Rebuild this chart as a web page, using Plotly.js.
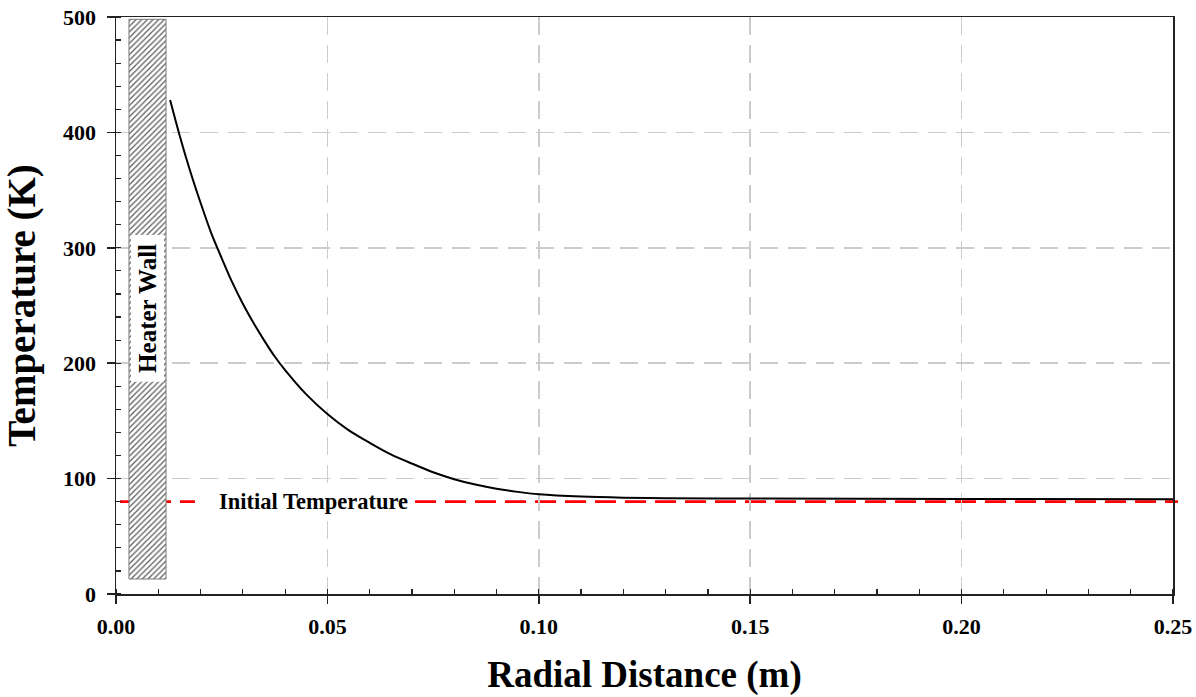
<!DOCTYPE html>
<html>
<head>
<meta charset="utf-8">
<script src="https://cdn.plot.ly/plotly-3.0.1.min.js"></script>
<style>html,body{margin:0;padding:0;background:#fff;}#chart{width:1196px;height:697px;}</style>
</head>
<body>
<div id="chart"></div>
<script>
// Temperature profile
const radialDistance = [0.0128, 0.015, 0.0175, 0.020, 0.0225, 0.025, 0.0275, 0.030, 0.0325, 0.035, 0.0375, 0.040, 0.045, 0.050, 0.055, 0.060, 0.065, 0.070, 0.075, 0.080, 0.085, 0.090, 0.095, 0.100, 0.110, 0.120, 0.130, 0.150, 0.200, 0.250];
const temperature    = [428,    398,   367,    339,   313,    291,   270,    251.5, 235,    220,   206,    194,   173,   156,   142,   131,   121,   113,   105.5, 99.5,  94.8,  91.2,  88.5,  86.5,  84.5,  83.5,  83,    82.7,  82.3,  82];

// Initial temperature reference line
const initialTemperature = 80;

// Heater wall block
const heaterCenter = [0.00745];
const heaterWidth = [0.00876];
const heaterBottom = [13];
const heaterTop = [498];

// Axis ticks
const xTicks = [0, 0.05, 0.10, 0.15, 0.20, 0.25];
const xTickLabels = ['0.00', '0.05', '0.10', '0.15', '0.20', '0.25'];
const yTicks = [0, 100, 200, 300, 400, 500];

const FONT = 'Liberation Serif, Times New Roman, serif';

const traces = [
  {
    type: 'bar',
    x: heaterCenter,
    y: [heaterTop[0] - heaterBottom[0]],
    base: heaterBottom,
    width: heaterWidth,
    marker: {
      color: '#ffffff',
      line: {color: '#7a7a7a', width: 1},
      pattern: {shape: '/', fgcolor: '#5a5a5a', bgcolor: '#ffffff', size: 4, solidity: 0.3}
    },
    hoverinfo: 'skip',
    showlegend: false
  },
  {
    type: 'scatter',
    mode: 'lines',
    x: radialDistance,
    y: temperature,
    line: {color: '#000000', width: 2, shape: 'spline', smoothing: 0.8},
    hoverinfo: 'skip',
    showlegend: false
  }
];

const axisCommon = {
  showline: true,
  linecolor: '#222222',
  linewidth: 1.5,
  mirror: true,
  ticks: 'outside',
  ticklen: 8,
  tickwidth: 1.5,
  tickcolor: '#222222',
  showgrid: true,
  gridcolor: '#cccccc',
  gridwidth: 1.5,
  griddash: '18px,10px',
  zeroline: false,
  tickfont: {family: FONT, size: 22, color: '#000000', weight: 'bold'}
};

const layout = {
  width: 1196,
  height: 697,
  paper_bgcolor: '#ffffff',
  plot_bgcolor: '#ffffff',
  margin: {l: 116, r: 23, t: 17, b: 103},
  showlegend: false,
  bargap: 0,
  xaxis: Object.assign({}, axisCommon, {
    range: [0, 0.25],
    tickmode: 'array',
    tickvals: xTicks,
    ticktext: xTickLabels,
    ticklabelstandoff: 4,
    minor: {dtick: 0.01, tick0: 0, ticks: 'inside', ticklen: 5, tickwidth: 1.2, tickcolor: '#222222', showgrid: false},
    title: {text: 'Radial Distance (m)', font: {family: FONT, size: 37, color: '#000000', weight: 'bold'}, standoff: 23}
  }),
  yaxis: Object.assign({}, axisCommon, {
    range: [0, 500],
    tickmode: 'array',
    tickvals: yTicks,
    ticklabelstandoff: 6,
    minor: {dtick: 20, tick0: 0, ticks: 'inside', ticklen: 5, tickwidth: 1.2, tickcolor: '#222222', showgrid: false},
    title: {text: 'Temperature (K)', font: {family: FONT, size: 39, color: '#000000', weight: 'bold'}, standoff: 16}
  }),
  shapes: [
    {
      type: 'line', layer: 'below',
      xref: 'paper', yref: 'y',
      x0: 0.0038, x1: 0.0747, y0: initialTemperature, y1: initialTemperature,
      line: {color: '#ff0000', width: 2.8, dash: '21px,9px'}
    },
    {
      type: 'line', layer: 'below',
      xref: 'paper', yref: 'y',
      x0: 0.2829, x1: 1.0047, y0: initialTemperature, y1: initialTemperature,
      line: {color: '#ff0000', width: 2.8, dash: '21px,9px'}
    },
    {
      type: 'rect', layer: 'above',
      xref: 'x', yref: 'y',
      x0: 0.00355, x1: 0.01135, y0: 184, y1: 311,
      fillcolor: '#ffffff',
      line: {width: 0}
    }
  ],
  annotations: [
    {
      xref: 'x', yref: 'y',
      x: heaterCenter[0], y: 247.5,
      text: 'Heater Wall',
      textangle: -90,
      showarrow: false,
      font: {family: FONT, size: 25, color: '#000000', weight: 'bold'}
    },
    {
      xref: 'x', yref: 'y',
      x: 0.0466, y: initialTemperature,
      text: 'Initial Temperature',
      showarrow: false,
      bgcolor: '#ffffff',
      borderpad: 2,
      font: {family: FONT, size: 22.5, color: '#000000', weight: 'bold'}
    }
  ]
};

Plotly.newPlot('chart', traces, layout, {displayModeBar: false, staticPlot: true});
</script>
</body>
</html>
